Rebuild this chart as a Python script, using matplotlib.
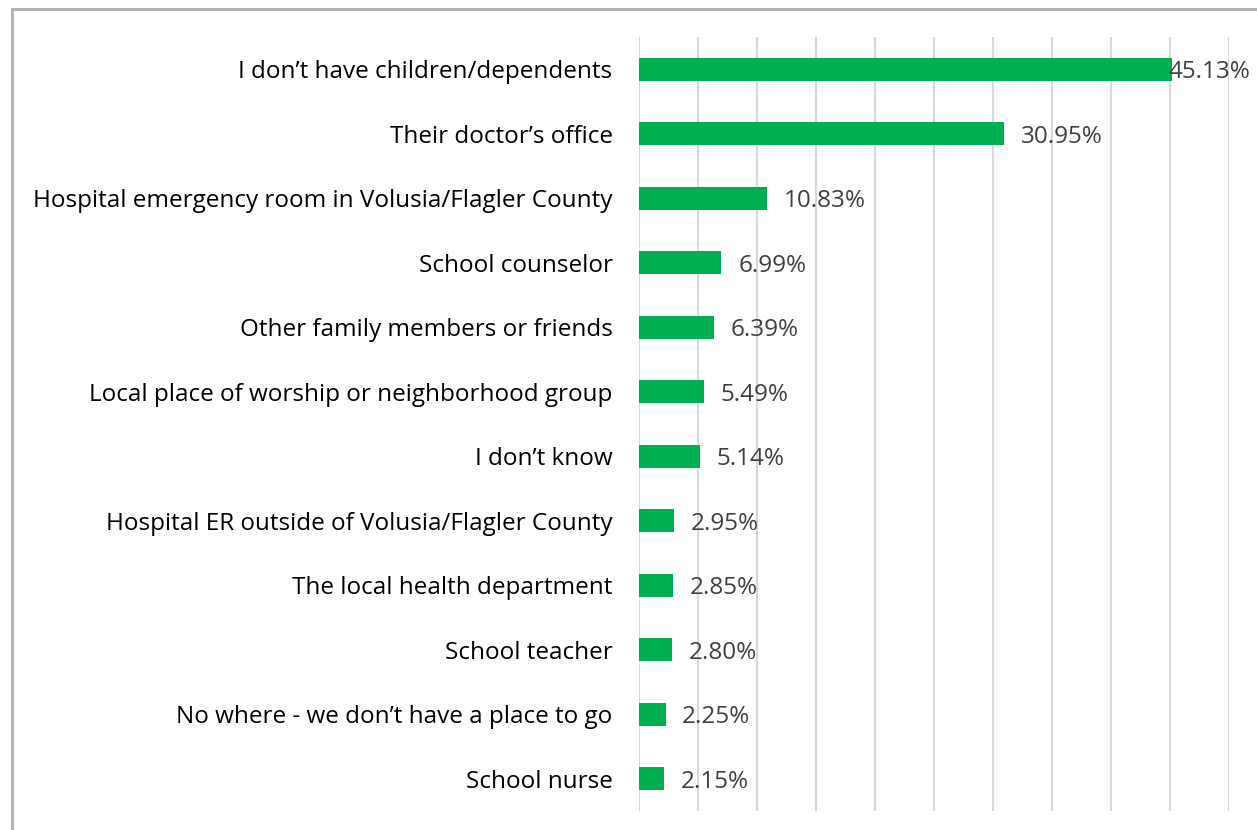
import matplotlib
matplotlib.use('Agg')
import matplotlib.pyplot as plt
from matplotlib.patches import Rectangle

categories = [
    "I don\u2019t have children/dependents",
    "Their doctor\u2019s office",
    "Hospital emergency room in Volusia/Flagler County",
    "School counselor",
    "Other family members or friends",
    "Local place of worship or neighborhood group",
    "I don\u2019t know",
    "Hospital ER outside of Volusia/Flagler County",
    "The local health department",
    "School teacher",
    "No where - we don\u2019t have a place to go",
    "School nurse",
]
values = [45.13, 30.95, 10.83, 6.99, 6.39, 5.49, 5.14, 2.95, 2.85, 2.80, 2.25, 2.15]

plt.rcParams['font.family'] = ['Open Sans', 'DejaVu Sans']

fig = plt.figure(figsize=(12.57, 8.30), dpi=100)
ax = fig.add_axes([639 / 1257, 1 - 811 / 830, (1229 - 639) / 1257, (811 - 37) / 830])

y = list(range(len(categories)))
ax.barh(y, values, height=0.36, color='#00B050', zorder=2)

ax.set_xlim(0, 50)
ax.set_ylim(len(categories) - 0.5, -0.5)
ax.set_xticks(range(0, 51, 5))
ax.xaxis.grid(True, color='#D9D9D9', linewidth=1.5, zorder=0)
ax.tick_params(axis='x', bottom=False, labelbottom=False)
ax.tick_params(axis='y', left=False, pad=15.5, labelsize=17.5, labelcolor='black')
ax.set_yticks(y)
ax.set_yticklabels(categories)
for s in ax.spines.values():
    s.set_visible(False)

for yi, v in zip(y, values):
    off = -2 if v > 44 else 12
    ax.annotate(f"{v:.2f}%", xy=(v, yi), xytext=(off, 0), textcoords='offset points',
                ha='left', va='center_baseline', fontsize=17.5, color='#404040', zorder=3)

# chart border
fig.patches.append(Rectangle((12 / 1257, -0.05), 1.1, 1 - 9 / 830 + 0.05,
                             transform=fig.transFigure, fill=False,
                             edgecolor='#B3B3B3', linewidth=2.2))

fig.savefig('out.png', dpi=100, facecolor='white')
